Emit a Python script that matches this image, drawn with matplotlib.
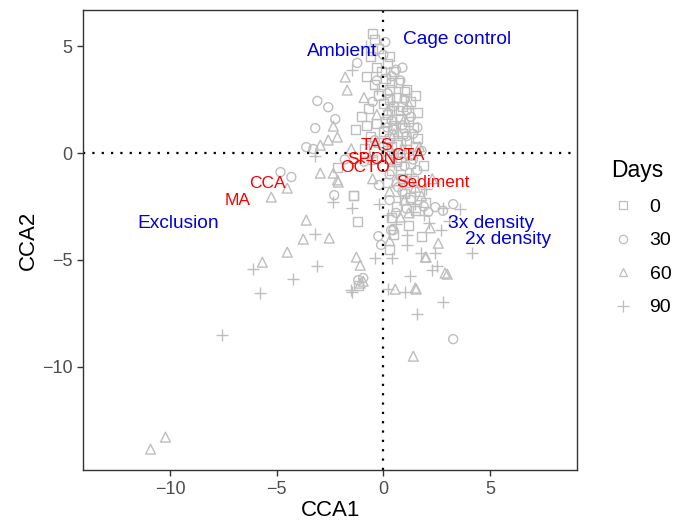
import matplotlib
matplotlib.use("Agg")
import matplotlib.pyplot as plt
from matplotlib.lines import Line2D

# site scores, one list per sampling day
day0_x = [-0.5, -0.4, -0.2, -0.6, 0.2, -0.3, 0.5, -0.8, 0.1, 0.7, -0.4, 0.3, 1.0, -0.2, 0.6,
          1.3, 0.0, 0.9, -0.7, 0.4, 1.6, 0.2, -1.0, 0.8, 1.2, -0.3, 0.5, 1.4, -1.3, 0.0,
          0.9, -0.6, 0.3, 1.1, -0.2, 0.6, 1.5, -0.9, 0.2, 0.8, 1.3, 0.4, 0.9, -0.5, 1.0,
          -1.4, 0.6, -1.2, 0.5, 1.8, 0.3, -2.15, -1.17, 1.5, 2.0, 0.4, 1.2, -1.41,
          0.3, 0.7, 1.0, 0.4, 1.2, 0.6, 1.4, 0.2, 0.8, 1.7, 1.1, 0.4, -0.1, 0.3, -0.5,
          1.5, 0.1, -0.8, 1.6, 1.9, 1.3]
day0_y = [5.6, 5.3, 4.9, 4.5, 4.2, 4.0, 3.8, 3.6, 3.5, 3.3, 3.2, 3.0, 2.9, 2.7, 2.6,
          2.4, 2.3, 2.2, 2.1, 2.0, 1.9, 1.8, 1.7, 1.6, 1.5, 1.4, 1.3, 1.2, 1.1, 1.0,
          0.9, 0.8, 0.7, 0.6, 0.5, 0.4, 0.3, 0.2, 0.1, -0.2, -0.5, -0.8, -1.2, -0.3, -1.9,
          -2.0, -2.5, -3.2, -3.8, -3.9, -4.5, -0.66, -6.18, -2.7, -2.3, -3.0, -3.4, -1.97,
          2.5, 2.0, 1.2, 0.3, 0.0, -0.4, -1.3, -1.4, -1.0, -1.8, 3.0, 3.3, 3.8, 4.5, 4.8,
          2.7, 1.5, 1.3, 0.7, -0.6, -2.1]

day30_x = [0.1, 0.0, -1.22, -3.09, -2.58, -2.25, -3.19, -3.61, -3.28, -4.82, -4.31, -2.30,
           -1.17, 3.28, -0.23, 2.44, 3.28, 2.11, 0.47, 0.6, 0.8, 0.2, 1.1, 0.5, -0.4,
           1.4, 0.7, 1.0, 0.3, 1.6, -0.2, 0.7, 2.8, 1.9, 0.3, -1.8, -0.9, 1.2, 0.0,
           0.2, 1.8, -0.5, 0.9, 1.3, 0.4, -0.1, -0.94, 0.37,
           0.5, 1.0, 0.2, 1.1, 0.5, 1.4, 0.9, 1.3, 0.4, 0.9, -0.3, 1.6, 0.6, 1.1]
day30_y = [5.2, 4.6, 4.22, 2.44, 2.15, 1.59, 1.17, 0.28, 0.19, -0.89, -1.12, -1.97,
           -5.95, -8.71, -3.89, -2.53, -2.39, -2.76, -3.61, 3.9, 3.4, 2.8, 2.0, 1.1, 0.6,
           0.9, 0.0, -0.6, -1.0, -0.8, -1.5, -1.6, -2.7, -2.5, -2.2, -0.3, -0.4, -1.4, 0.3,
           -0.3, 0.1, 2.4, 1.3, 1.7, 1.5, -4.3, -5.85, -3.61,
           2.2, 2.5, 1.2, 0.8, -0.1, -0.3, -1.8, -2.2, 3.6, 4.0, 3.4, 1.2, -2.8, -2.6]

day60_x = [-10.91, -10.21, -5.25, -4.50, -3.61, -3.75, -2.53, -4.50, -5.67, -1.26, -1.08,
           -1.08, -2.34, -2.11, -2.34, -2.58, -2.95, -2.15, -2.15, -2.95, 2.58, 2.01, 2.90,
           1.50, 0.56, 1.55, 1.41, 1.97, 3.00, -1.78, -1.69, -0.94, 0.8, 1.0, 0.3, 1.5,
           2.3, 0.9, 1.7, 0.5, -0.3, 1.2, -0.9, 0.3, 2.2, -0.5, -1.5,
           0.7, 1.3, 0.6, 1.8, 1.2, 0.2, 1.0]
day60_y = [-13.86, -13.30, -2.06, -1.64, -3.14, -4.03, -3.98, -4.64, -5.11, -4.87, -5.25,
           -6.09, -0.94, -1.36, 1.26, 0.61, 0.37, 0.75, -1.26, -0.94, -4.22, -4.87, -5.62,
           -6.32, -6.37, -6.37, -9.51, -4.87, -5.67, 3.56, 2.95, -6.0, -3.0, -2.2, -1.8, -1.6,
           -1.2, 0.2, 0.3, 0.9, 1.8, 2.3, 2.6, -4.1, -3.5, -1.2, 0.2,
           1.0, -0.1, -1.3, -2.0, -2.8, 2.0, 1.6]

day90_x = [-7.54, -6.09, -5.76, -4.22, -3.19, -3.09, -1.50, -2.34, -1.45, -3.19, -1.45,
           -0.37, 1.41, 1.12, 2.15, 1.78, 2.53, 4.17, 1.26, 2.81, 1.59, 1.03, 0.23, 2.30,
           2.44, 2.81, -0.8, -0.3, 0.5, 1.3, 0.8, 2.0, 3.1, 3.6, 2.7, 0.2, 1.9, -0.2,
           0.6, -0.6, 1.1, 0.4, -1.45, 0.4, 1.0, 1.5, 0.6]
day90_y = [-8.52, -5.43, -6.56, -5.90, -3.79, -5.29, -6.42, -2.30, -2.58, -0.14, 3.89,
           -4.92, -2.76, -3.84, -3.28, -4.68, -5.29, -4.68, -5.76, -6.98, -7.54, -6.51, -6.37,
           -5.48, -4.68, -2.58, 5.0, 3.0, -0.5, -1.0, -2.0, -1.7, -3.2, -2.6, -3.6, -2.9,
           -2.9, -2.4, 1.4, -0.2, -4.3, -4.9, -6.51, 2.4, 0.4, -2.4, -3.3]

days = ["0", "30", "60", "90"]
day_markers = ["s", "o", "^", "+"]

# species scores (red) and treatment centroids (blue)
species = ["TAS", "SPON", "CTA", "OCTO", "Sediment", "CCA", "MA"]
species_x = [-0.28, -0.52, 1.17, -0.84, 2.34, -5.43, -6.84]
species_y = [0.37, -0.28, -0.09, -0.66, -1.40, -1.41, -2.20]

treatments = ["Ambient", "Cage control", "Exclusion", "3x density", "2x density"]
treat_x = [-1.92, 3.47, -9.60, 5.06, 5.85]
treat_y = [4.78, 5.34, -3.28, -3.28, -4.03]

point_grey = "#BEBEBE"
plt.rcParams["font.family"] = ["Liberation Sans", "DejaVu Sans"]

fig = plt.figure(figsize = (6.8, 5.26), dpi = 100)
ax = fig.add_axes([0.122, 0.106, 0.727, 0.875])

groups = [(day0_x, day0_y), (day30_x, day30_y), (day60_x, day60_y), (day90_x, day90_y)]
for (gx, gy), marker in zip(groups, day_markers):
    if marker == "+":
        ax.scatter(gx, gy, marker = marker, s = 85, color = point_grey, linewidths = 1.0)
    elif marker == "^":
        ax.scatter(gx, gy, marker = marker, s = 50, facecolors = "none",
                   edgecolors = point_grey, linewidths = 1.0)
    else:
        ax.scatter(gx, gy, marker = marker, s = 42, facecolors = "none",
                   edgecolors = point_grey, linewidths = 1.0)

ax.axhline(0, color = "black", linestyle = (0, (1, 3.2)), linewidth = 1.6)
ax.axvline(0, color = "black", linestyle = (0, (1, 3.2)), linewidth = 1.6)

for name, x, y in zip(species, species_x, species_y):
    ax.text(x, y, name, color = "#FF0000", fontsize = 12.5, ha = "center", va = "center")
for name, x, y in zip(treatments, treat_x, treat_y):
    ax.text(x, y, name, color = "#0000DD", fontsize = 13.8, ha = "center", va = "center")

ax.set_xlim(-14.08, 9.1)
ax.set_ylim(-14.85, 6.7)
ax.set_xticks([-10, -5, 0, 5])
ax.set_yticks([-10, -5, 0, 5])
ax.set_xticklabels(["\u221210", "\u22125", "0", "5"])
ax.set_yticklabels(["\u221210", "\u22125", "0", "5"])
ax.tick_params(colors = "#333333", labelcolor = "#4D4D4D", labelsize = 13, length = 4, width = 1)
for spine in ax.spines.values():
    spine.set_color("#333333")
    spine.set_linewidth(1.0)
ax.set_xlabel("CCA1", fontsize = 16, labelpad = 2)
ax.set_ylabel("CCA2", fontsize = 16, labelpad = 2)

handles = []
for marker in day_markers:
    if marker == "+":
        handles.append(Line2D([], [], marker = marker, linestyle = "none", color = point_grey,
                              markersize = 8, markeredgewidth = 0.9))
    else:
        handles.append(Line2D([], [], marker = marker, linestyle = "none", markerfacecolor = "none",
                              markeredgecolor = point_grey, markersize = 6, markeredgewidth = 0.9))
leg = fig.legend(handles, days, title = "Days", loc = "upper left",
                 bbox_to_anchor = (0.888, 0.712), frameon = False, fontsize = 14,
                 title_fontsize = 16.5, labelspacing = 0.82, handletextpad = 0.75,
                 handlelength = 1.2, borderaxespad = 0)
leg._legend_box.align = "left"

fig.savefig("out.png", dpi = 100)
